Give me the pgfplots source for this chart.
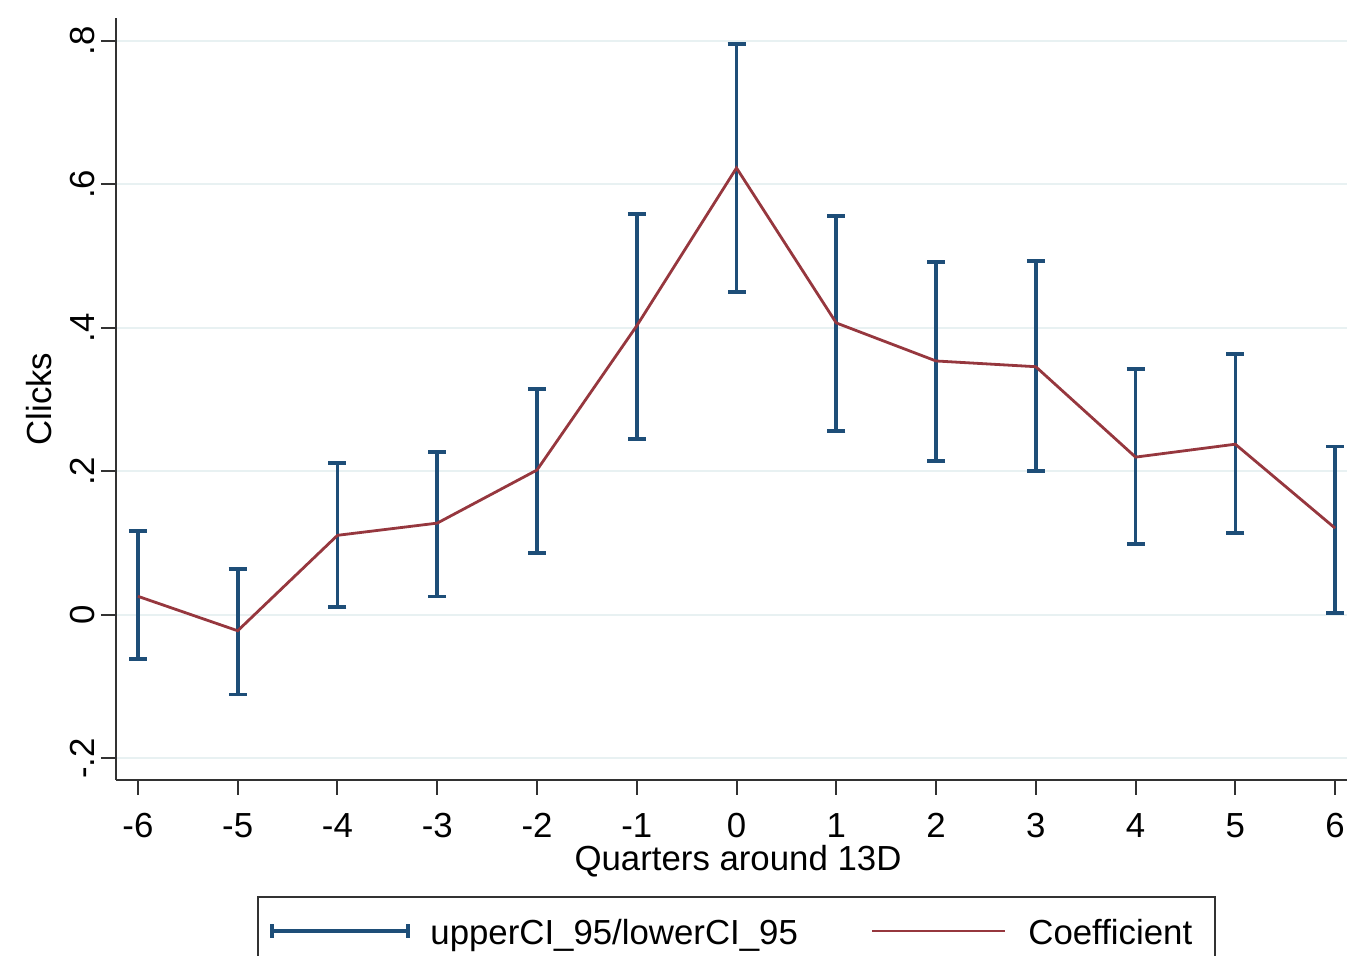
\documentclass[border=0pt]{standalone}
\usepackage{fontspec}
\setmainfont{Liberation Sans}
\usepackage{pgfplots}
\usepackage{pgfplotstable}
\pgfplotsset{compat=1.18}

\definecolor{ciblue}{RGB}{30,78,120}
\definecolor{coefred}{RGB}{150,55,62}
\definecolor{gridc}{RGB}{232,241,242}
\definecolor{axc}{RGB}{50,50,50}
\newcommand{\fs}{\fontsize{17.4}{20}\selectfont}

% quarter, lower CI, upper CI, coefficient
\pgfplotstableread{
x  lo     hi     coef
-6 -0.061 0.117  0.026
-5 -0.111 0.064 -0.022
-4  0.011 0.212  0.111
-3  0.026 0.227  0.128
-2  0.086 0.315  0.202
-1  0.245 0.559  0.403
0   0.450 0.796  0.623
1   0.256 0.556  0.407
2   0.215 0.492  0.354
3   0.201 0.493  0.346
4   0.099 0.343  0.220
5   0.114 0.364  0.238
6   0.003 0.235  0.121
}\cidata

\begin{document}
\begin{tikzpicture}
\path[use as bounding box] (-58pt,-88pt) rectangle (615.5pt,390pt);
\clip (-58pt,-88pt) rectangle (615.5pt,390pt);
\begin{axis}[
  at={(0,0)}, anchor=south west, scale only axis,
  width=622pt, height=381pt,
  xmin=-6.22, xmax=6.25, ymin=-0.23, ymax=0.832,
  axis lines=left,
  axis line style={-, line width=1pt, axc},
  xtick={-6,-5,-4,-3,-2,-1,0,1,2,3,4,5,6},
  xticklabels={-6,-5,-4,-3,-2,-1,0,1,2,3,4,5,6},
  ytick={-0.2,0,0.2,0.4,0.6,0.8},
  yticklabels={-.2,0,.2,.4,.6,.8},
  tick align=outside, major tick length=7.5pt,
  tick style={line width=1pt, axc},
  xticklabel style={font=\fs, anchor=north, inner sep=0pt},
  xticklabel shift=9pt,
  yticklabel style={font=\fs, rotate=90, anchor=south, inner sep=0pt},
  yticklabel shift=3pt,
  ymajorgrids, grid style={line width=1pt, gridc},
  xlabel={Quarters around 13D},
  xlabel style={font=\fs, inner sep=0pt, anchor=north,
    at={([yshift=-32.5pt]axis description cs:0.5,0)}},
  ylabel={Clicks},
  ylabel style={font=\fs, inner sep=0pt, anchor=south,
    at={([xshift=-32pt]axis description cs:0,0.5)}},
  clip=false,
]
\addplot[draw=none, mark=none,
  error bars/.cd, y dir=both, y explicit,
  error bar style={ciblue, line width=1.8pt},
  error mark=|,
  error mark options={ciblue, line width=1.8pt, mark size=4.5pt}]
  table[x=x, y=coef,
    y error plus expr=\thisrow{hi}-\thisrow{coef},
    y error minus expr=\thisrow{coef}-\thisrow{lo}] {\cidata};
\addplot[coefred, line width=1.4pt, mark=none] table[x=x, y=coef] {\cidata};
\end{axis}
% legend
\draw[line width=1pt, axc] (71pt,-110pt) -- (71pt,-58.5pt) -- (549.5pt,-58.5pt) -- (549.5pt,-110pt);
\draw[ciblue, line width=1.8pt] (78pt,-75.5pt) -- (146pt,-75.5pt);
\draw[ciblue, line width=1.8pt] (78pt,-79pt) -- (78pt,-72pt);
\draw[ciblue, line width=1.8pt] (146pt,-79pt) -- (146pt,-72pt);
\node[anchor=base west, inner sep=0pt, font=\fs] at (157pt,-82.5pt) {upperCI\_95/lowerCI\_95};
\draw[coefred, line width=1.4pt] (378pt,-75.5pt) -- (444.5pt,-75.5pt);
\node[anchor=base west, inner sep=0pt, font=\fs] at (456pt,-82.5pt) {Coefficient};
\end{tikzpicture}
\end{document}
